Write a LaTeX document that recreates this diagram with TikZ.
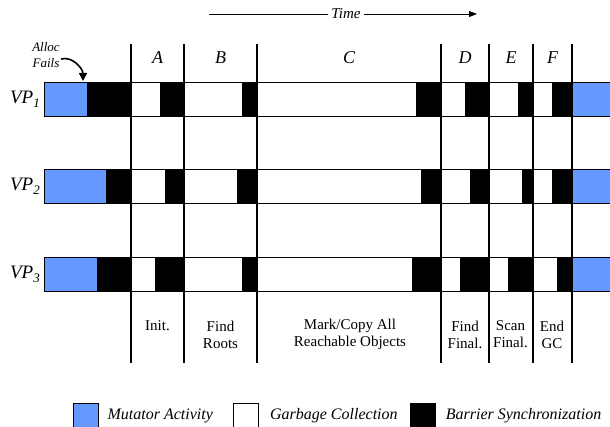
\documentclass[tikz,border=0pt]{standalone}
\usepackage{fontspec}
\setmainfont{Liberation Serif}
\usetikzlibrary{positioning, arrows.meta}
\definecolor{mutblue}{RGB}{102,153,255}

\begin{document}
\begin{tikzpicture}[
  x=1pt, y=-1pt,
  font=\fontsize{15}{17}\selectfont,
  mut/.style={draw, fill=mutblue, line width=0.8pt},
  gc/.style={draw, fill=white, line width=0.8pt},
  sync/.style={draw, fill=black, line width=0.8pt},
  phase/.style={line width=1.4pt},
  vplabel/.style={anchor=east, inner sep=0pt, font=\fontsize{19}{19}\selectfont\itshape},
  letter/.style={font=\fontsize{18}{18}\selectfont\itshape},
  phtext/.style={align=center, inner sep=0pt},
  legbox/.style={draw, minimum width=25pt, minimum height=25pt, inner sep=0pt, line width=0.8pt},
  legtext/.style={inner sep=0pt, font=\fontsize{16}{16}\selectfont\itshape},
  arr/.style={-{Triangle[length=8pt, width=8pt]}, line width=1.6pt}
]
\useasboundingbox (0,0) rectangle (610,427);

% time axis
\node[font=\fontsize{15}{15}\selectfont\itshape] (time) at (346,14) {Time};
\coordinate (tstart) at (209,14);
\coordinate (tend) at (477,14);
\draw[line width=0.9pt] (tstart) -- (time.west);
\draw[line width=0.9pt, -{Triangle[length=8pt, width=6pt]}] (time.east) -- (tend);

% VP1
\foreach \l/\r/\s in {44/87/mut, 87/131/sync, 131/160/gc, 160/184/sync, 184/242/gc,
    242/257/sync, 257/416/gc, 416/441/sync, 441/465/gc, 465/489/sync, 489/518/gc,
    518/533/sync, 533/552/gc, 552/572/sync, 572/614/mut}
  \draw[\s] (\l,82) rectangle (\r,116);
% VP2
\foreach \l/\r/\s in {44/106/mut, 106/131/sync, 131/165/gc, 165/184/sync, 184/237/gc,
    237/257/sync, 257/421/gc, 421/441/sync, 441/470/gc, 470/489/sync, 489/522/gc,
    522/533/sync, 533/552/gc, 552/572/sync, 572/614/mut}
  \draw[\s] (\l,169) rectangle (\r,203);
% VP3
\foreach \l/\r/\s in {44/97/mut, 97/131/sync, 131/155/gc, 155/184/sync, 184/242/gc,
    242/257/sync, 257/412/gc, 412/441/sync, 441/460/gc, 460/489/sync, 489/508/gc,
    508/533/sync, 533/557/gc, 557/572/sync, 572/614/mut}
  \draw[\s] (\l,257) rectangle (\r,291);

% phase boundaries
\foreach \x in {131,184,257,441,489,533,572}
  \draw[phase] (\x,44) -- (\x,363);

\foreach \i/\y in {1/99, 2/186, 3/274}
  \node[vplabel] (vp\i) at (40,\y) {VP\raisebox{-4pt}{\fontsize{13}{13}\selectfont\i}};

\foreach \x/\t in {157.5/A, 220.5/B, 349/C, 465/D, 511/E, 552.5/F}
  \node[letter] (ph\t) at (\x,58) {\t};

% phase names
\node[phtext] (init)  at (157.5,326)  {Init.};
\node[phtext] (roots) at (220.5,334.5) {Find\\Roots};
\node[phtext] (mark)  at (350,334.5)   {Mark/Copy All\\Reachable Objects};
\node[phtext] (ffin)  at (465,334.5)   {Find\\Final.};
\node[phtext] (sfin)  at (510.5,334.5) {Scan\\Final.};
\node[phtext] (endgc) at (552,334.5)   {End\\GC};

% allocation failure
\node[align=center, inner sep=1pt, font=\fontsize{13}{16}\selectfont\itshape] (alloc) at (46,55) {Alloc\\Fails};
\coordinate (afail) at (83,81);
\draw[arr] ([yshift=-4pt]alloc.east) to[out=15, in=90] (afail);

% legend
\node[legbox, fill=mutblue] (legmut) at (85.5,415.5) {};
\node[legtext, right=9pt of legmut] (legmuttxt) {Mutator Activity};
\node[legbox, fill=white, right=20pt of legmuttxt] (leggc) {};
\node[legtext, right=11pt of leggc] (leggctxt) {Garbage Collection};
\node[legbox, fill=black, right=12pt of leggctxt] (legsync) {};
\node[legtext, right=10pt of legsync] (legsynctxt) {Barrier Synchronization};
\end{tikzpicture}
\end{document}
